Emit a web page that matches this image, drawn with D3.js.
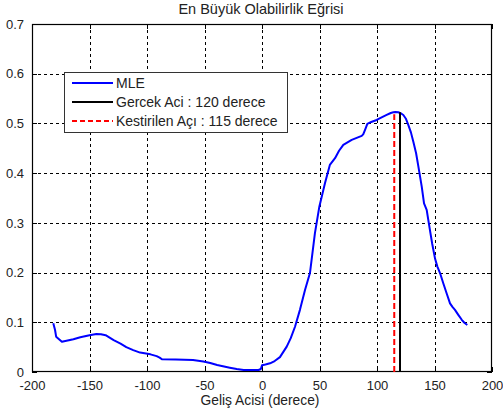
<!DOCTYPE html>
<html>
<head>
<meta charset="utf-8">
<script src="https://cdn.jsdelivr.net/npm/d3@7"></script>
<style>
  html, body { margin: 0; padding: 0; background: #fff; }
  svg { display: block; font-family: "Liberation Sans", Arial, sans-serif; }
</style>
</head>
<body>
<svg id="chart" width="503" height="417"></svg>
<script>
// Arrival angle (degrees) and maximum-likelihood response
const angles = [-181.5,-180,-179,-176,-174,-170,-164,-158,-150,-144,-140,-136,-129,-123,-118,-112,-106,-97,-91.6,-89,-87,-75,-60,-51,-45,-39,-33,-28,-22,-16,-10,-3,-1,0,3,7,11,15.6,21.5,25,28.7,33,37.4,41.7,46,49.9,54.8,59,63.5,67,70.7,78,86.7,88,89.6,91.6,95,99.7,104,108.4,112,114.2,116,118.5,121,122.9,125,127.2,129.5,131.6,134,136,138.9,140.9,143.2,146,148,150.4,152.5,154.8,157.7,160.6,163.5,165.6,167.8,170.7,173.7,176,178.5];
const mleValues = [0.098,0.085,0.071,0.065,0.061,0.063,0.066,0.070,0.074,0.0765,0.076,0.074,0.064,0.057,0.050,0.044,0.039,0.0355,0.032,0.029,0.0255,0.025,0.024,0.021,0.018,0.014,0.011,0.0087,0.006,0.004,0.004,0.004,0.006,0.0135,0.015,0.0175,0.022,0.030,0.051,0.068,0.091,0.125,0.165,0.199,0.279,0.333,0.380,0.4165,0.43,0.445,0.457,0.467,0.475,0.478,0.487,0.499,0.503,0.507,0.512,0.517,0.521,0.5225,0.523,0.5225,0.520,0.517,0.510,0.497,0.482,0.463,0.440,0.413,0.373,0.339,0.326,0.286,0.258,0.229,0.212,0.199,0.178,0.158,0.138,0.131,0.125,0.115,0.105,0.099,0.0946];

const trueAngle = 120;
const estimatedAngle = 115;
const peakValue = 0.5225;

const xTicks = [-200,-150,-100,-50,0,50,100,150,200];
const yTicks = [0,0.1,0.2,0.3,0.4,0.5,0.6,0.7];
const legendLabels = ["MLE", "Gercek Aci : 120 derece", "Kestirilen Açı : 115 derece"];

const plotLeft = 32, plotRight = 492, plotTop = 24, plotBottom = 372;
const svg = d3.select("#chart");
const x = d3.scaleLinear().domain([-200, 200]).range([plotLeft, plotRight]);
const y = d3.scaleLinear().domain([0, 0.7]).range([plotBottom, plotTop]);
const textColor = "#222";

// grid
const grid = svg.append("g").attr("stroke", "#000").attr("stroke-width", 1)
  .attr("stroke-dasharray", "3,3").attr("shape-rendering", "crispEdges");
xTicks.slice(1, -1).forEach(t => {
  grid.append("line").attr("x1", Math.round(x(t)) + 0.5).attr("x2", Math.round(x(t)) + 0.5)
    .attr("y1", plotTop).attr("y2", plotBottom);
});
yTicks.slice(1, -1).forEach(t => {
  grid.append("line").attr("y1", Math.round(y(t)) + 0.5).attr("y2", Math.round(y(t)) + 0.5)
    .attr("x1", plotLeft).attr("x2", plotRight);
});

// axes (ticks point inward)
const tk = 5;
const xAxisB = d3.axisBottom(x).tickValues(xTicks).tickSizeInner(-tk).tickSizeOuter(0).tickPadding(9)
  .tickFormat(d => String(d));
const xAxisT = d3.axisTop(x).tickValues(xTicks).tickSizeInner(-tk).tickSizeOuter(0).tickFormat("");
const yAxisL = d3.axisLeft(y).tickValues(yTicks).tickSizeInner(-tk).tickSizeOuter(0).tickPadding(8)
  .tickFormat(d => d === 0 ? "0" : d.toFixed(1));
const yAxisR = d3.axisRight(y).tickValues(yTicks).tickSizeInner(-tk).tickSizeOuter(0).tickFormat("");

function style(g) {
  g.select(".domain").remove();
  g.selectAll("line").attr("stroke", "#000").attr("shape-rendering", "crispEdges");
  g.selectAll("text").attr("fill", textColor).style("font-size", "13px")
    .style("font-family", "'Liberation Sans', Arial, sans-serif");
}
svg.append("g").attr("transform", `translate(0,${plotBottom})`).call(xAxisB).call(style);
svg.append("g").attr("transform", `translate(0,${plotTop})`).call(xAxisT).call(style);
svg.append("g").attr("transform", `translate(${plotLeft},0)`).call(yAxisL).call(style);
svg.append("g").attr("transform", `translate(${plotRight},0)`).call(yAxisR).call(style);

// box
svg.append("rect").attr("x", plotLeft + 0.5).attr("y", plotTop + 0.5)
  .attr("width", plotRight - plotLeft - 1).attr("height", plotBottom - plotTop - 1)
  .attr("fill", "none").attr("stroke", "#000").attr("stroke-width", 1.2);

// MLE curve
const pts = angles.map((a, i) => [a, mleValues[i]]);
svg.append("path").datum(pts)
  .attr("d", d3.line().x(d => x(d[0])).y(d => y(d[1])))
  .attr("fill", "none").attr("stroke", "#0000ff").attr("stroke-width", 2)
  .attr("stroke-linejoin", "round");

// true and estimated angle markers
svg.append("line").attr("x1", x(estimatedAngle)).attr("x2", x(estimatedAngle))
  .attr("y1", y(0)).attr("y2", y(peakValue - 0.004))
  .attr("stroke", "#ff0000").attr("stroke-width", 2).attr("stroke-dasharray", "6,3");
svg.append("line").attr("x1", x(trueAngle)).attr("x2", x(trueAngle))
  .attr("y1", y(0)).attr("y2", y(peakValue))
  .attr("stroke", "#000").attr("stroke-width", 2);

// title and axis label
svg.append("text").attr("x", 261).attr("y", 14).attr("text-anchor", "middle")
  .attr("fill", textColor).style("font-size", "14.5px").text("En Büyük Olabilirlik Eğrisi");
svg.append("text").attr("x", 260).attr("y", 405).attr("text-anchor", "middle")
  .attr("fill", textColor).style("font-size", "13.8px").text("Geliş Acisi (derece)");

// legend
const lg = svg.append("g");
lg.append("rect").attr("x", 64.5).attr("y", 72.5).attr("width", 223).attr("height", 60)
  .attr("fill", "#fff").attr("stroke", "#333").attr("stroke-width", 1);
const legendStyles = [
  { color: "#0000ff", dash: null },
  { color: "#000", dash: null },
  { color: "#ff0000", dash: "5,3" }
];
legendLabels.forEach((lbl, i) => {
  const yy = 83 + i * 19;
  lg.append("line").attr("x1", 72).attr("x2", 113).attr("y1", yy).attr("y2", yy)
    .attr("stroke", legendStyles[i].color).attr("stroke-width", 2)
    .attr("stroke-dasharray", legendStyles[i].dash);
  lg.append("text").attr("x", 116).attr("y", yy + 5).attr("fill", textColor)
    .style("font-size", "14px").text(lbl);
});
</script>
</body>
</html>
